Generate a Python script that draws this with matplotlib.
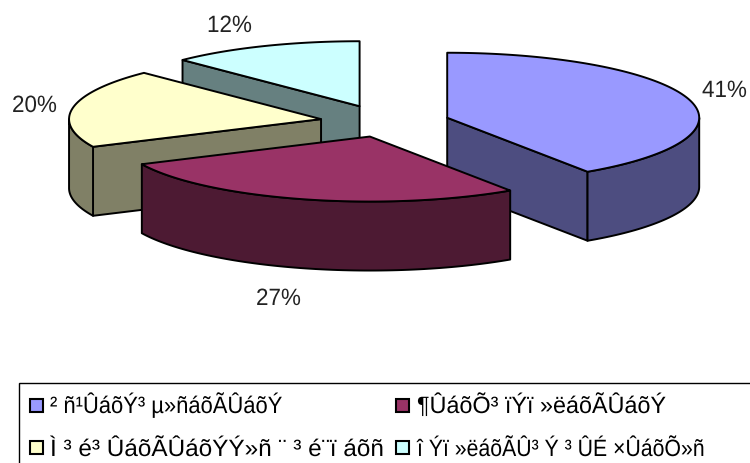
import numpy as np
import matplotlib
matplotlib.use("Agg")
import matplotlib.pyplot as plt
from matplotlib.patches import Polygon, Rectangle
from matplotlib.patheffects import AbstractPathEffect
from matplotlib.transforms import Affine2D

FONT = "Liberation Sans"

# Data
categories = ["² ñ¹ÛáõÝ³ µ»ñáõÃÛáõÝ", "¶ÛáõÕ³ ïÝï »ëáõÃÛáõÝ",
              "Ì ³ é³ ÛáõÃÛáõÝÝ»ñ ¨ ³ é¨ï áõñ", "î Ýï »ëáõÃÛ³ Ý ³ ÛÉ ×ÛáõÕ»ñ"]
values = [40.6, 27.4, 19.6, 12.4]
labels = ["41%", "27%", "20%", "12%"]
top_colors = ["#9999FF", "#993366", "#FFFFCC", "#CCFFFF"]
side_colors = ["#4D4D80", "#4D1A33", "#808066", "#668080"]
explode = [0.91, 1.0, 1.0, 1.1]

# Geometry of the projected pie, in figure pixels
CX, CY, RX, RY, DEPTH = 388, 122.8, 252, 65, 69
EX, EY = 68, 15.3
LW = 1.4


class Narrow(AbstractPathEffect):
    """Horizontally condense a text about its left edge."""

    def __init__(self, sx):
        super().__init__()
        self.sx = sx

    def draw_path(self, renderer, gc, tpath, affine, rgbFace=None):
        x0 = affine.get_matrix()[0, 2]
        squeeze = Affine2D().translate(-x0, 0).scale(self.sx, 1).translate(x0, 0)
        renderer.draw_path(gc, tpath, affine + squeeze, rgbFace)


fig = plt.figure(figsize=(7.5, 4.64), dpi=100)
ax = fig.add_axes([0, 0, 1, 1])
ax.set_xlim(0, 750)
ax.set_ylim(464, 0)
ax.axis("off")

edges = np.cumsum([0] + values) / sum(values) * 2 * np.pi
order_z = {3: 1, 2: 2, 0: 3, 1: 4}


def rim(cx, cy, t):
    return np.column_stack([cx + RX * np.sin(t), cy - RY * np.cos(t)])


def draw_slice(i):
    t0, t1 = edges[i], edges[i + 1]
    mid = (t0 + t1) / 2
    cx = CX + EX * explode[i] * np.sin(mid)
    cy = CY - EY * explode[i] * np.cos(mid)
    down = np.array([0, DEPTH])
    apex = np.array([[cx, cy]])
    style = dict(closed=True, ec="black", lw=LW, joinstyle="round", zorder=order_z[i])
    # radial walls facing the viewer
    for t, normal in ((t0, t0 - np.pi / 2), (t1, t1 + np.pi / 2)):
        if np.cos(normal) < -1e-6:
            p = rim(cx, cy, np.array([t]))
            ax.add_patch(Polygon(np.vstack([apex, p, p + down, apex + down]),
                                 fc=side_colors[i], **style))
    # outer front wall
    a, b = max(t0, np.pi / 2), min(t1, 3 * np.pi / 2)
    if b > a:
        arc = rim(cx, cy, np.linspace(a, b, 80))
        ax.add_patch(Polygon(np.vstack([arc, arc[::-1] + down]), fc=side_colors[i], **style))
    # top face
    arc = rim(cx, cy, np.linspace(t0, t1, 120))
    style["zorder"] = order_z[i] + 0.5
    ax.add_patch(Polygon(np.vstack([apex, arc]), fc=top_colors[i], **style))


for i in range(4):
    draw_slice(i)

label_pos = [(702, 98), (256, 306), (12, 113), (207, 33)]
for s, (x, y) in zip(labels, label_pos):
    ax.text(x, y, s, ha="left", va="baseline", fontsize=17, family=FONT, color="#222222",
            path_effects=[Narrow(0.95)])

# Legend
ax.add_patch(Rectangle((19, 383.5), 760, 100, fc="white", ec="black", lw=1.0, zorder=5))
swatch_pos = [(30, 400), (396, 399.5), (30, 441.5), (396, 441.5)]
text_pos = [(50, 414), (417, 414), (50, 457), (417, 457)]
text_sx = [0.93, 0.99, 1.03, 0.90]
for name, col, (sx, sy), (x, y), k in zip(categories, top_colors, swatch_pos, text_pos, text_sx):
    ax.add_patch(Rectangle((sx, sy), 13, 13, fc=col, ec="black", lw=1.5, zorder=6))
    ax.text(x, y, name, ha="left", va="baseline", fontsize=17, family=[FONT, "DejaVu Sans"],
            color="black", zorder=6, path_effects=[Narrow(k)])

fig.savefig("out.png", dpi=100)
